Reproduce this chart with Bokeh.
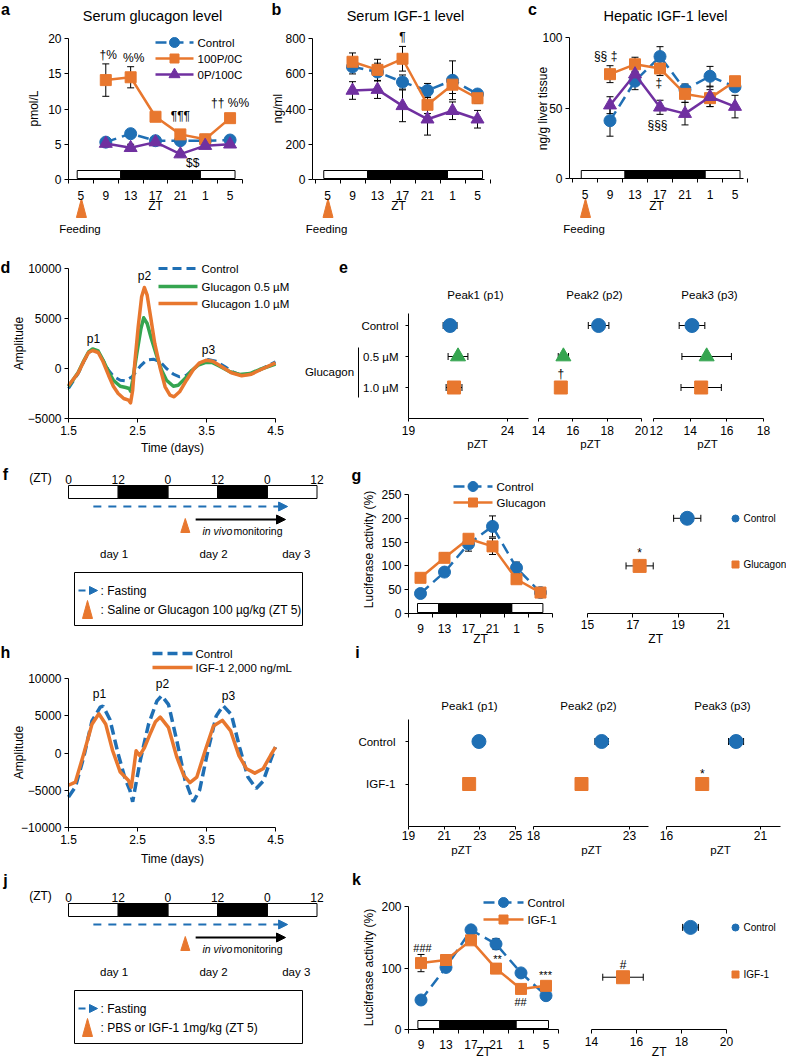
import math
from bokeh.plotting import figure
from bokeh.models import (Range1d, LinearAxis, FixedTicker, Whisker, TeeHead,
                          ColumnDataSource, Label, Arrow, NormalHead)
from bokeh.layouts import row, column
from bokeh.embed import file_html
from bokeh.resources import INLINE

# ============================ DATA ============================
# a-c: sampling times (ZT; feeding at ZT5, 25 = ZT1 and 29 = ZT5 of next day)
feed_zt = [9, 13, 17, 21, 25, 29]
feed_ticks = [5, 9, 13, 17, 21, 25, 29]
feed_tick_labels = ["5", "9", "13", "17", "21", "1", "5"]
feed_series = ["Control", "100P/0C", "0P/100C"]

# a: serum glucagon (pmol/L)
glu_control = [5.3, 6.5, 5.5, 5.5, 5.5, 5.6]
glu_control_err = [0.4, 0.4, 0.3, 0.3, 0.3, 0.3]
glu_100p = [14.1, 14.5, 8.9, 6.4, 5.7, 8.7]
glu_100p_err = [2.3, 1.5, 0.4, 0.5, 0.7, 0.4]
glu_0p = [5.1, 4.5, 5.3, 3.6, 4.8, 5.0]
glu_0p_err = [0.4, 0.5, 0.4, 0.4, 0.4, 0.4]

# b: serum IGF-1 (ng/ml)
sigf_control = [639, 610, 553, 505, 563, 485]
sigf_control_err = [40, 50, 40, 40, 110, 20]
sigf_100p = [668, 622, 685, 424, 538, 461]
sigf_100p_err = [50, 60, 70, 50, 50, 30]
sigf_0p = [505, 510, 418, 342, 390, 342]
sigf_0p_err = [50, 50, 90, 90, 50, 50]

# c: hepatic IGF-1 (ng/g liver tissue)
higf_control = [41, 69, 86.5, 63, 72.5, 65]
higf_control_err = [11, 6, 7, 4, 7, 3]
higf_100p = [74, 81, 78, 60, 57, 69]
higf_100p_err = [6, 5, 5, 6, 6, 3]
higf_0p = [52, 74, 50.5, 46, 58, 51]
higf_0p_err = [6, 4, 5, 8, 7, 8]

# d: detrended bioluminescence (amplitude vs days)
d_t_ctrl = [1.5, 1.64, 1.72, 1.79, 1.85, 1.93, 2.0, 2.08, 2.15, 2.25, 2.32, 2.42, 2.54, 2.63,
            2.73, 2.83, 2.92, 3.02, 3.11, 3.21, 3.31, 3.4, 3.52, 3.64, 3.77, 3.89, 4.01, 4.13,
            4.25, 4.37, 4.5]
d_amp_ctrl = [-2000, -500, 670, 1570, 1850, 1650, 830, -170, -770, -1170, -1230, -830, 230, 830,
              930, 670, 0, -570, -830, -670, -100, 500, 900, 730, 170, -370, -670, -600,
              -230, 230, 670]
d_t_g05 = [1.5, 1.64, 1.72, 1.79, 1.85, 1.93, 2.0, 2.08, 2.15, 2.25, 2.33, 2.38, 2.4, 2.43,
           2.49, 2.55, 2.59, 2.64, 2.7, 2.78, 2.85, 2.92, 3.02, 3.09, 3.19, 3.28, 3.38, 3.48,
           3.58, 3.69, 3.84, 3.98, 4.13, 4.27, 4.5]
d_amp_g05 = [-1800, -400, 750, 1650, 1950, 1750, 850, -330, -1170, -1770, -1900, -2000, -2270,
             -1170, 1500, 4000, 5070, 4500, 3000, 1230, -170, -1170, -1770, -1670, -1000, -230,
             330, 600, 600, 230, -330, -600, -500, -100, 430]
d_t_g10 = [1.5, 1.64, 1.72, 1.79, 1.85, 1.93, 2.0, 2.08, 2.15, 2.22, 2.3, 2.37, 2.4, 2.43,
           2.46, 2.51, 2.56, 2.6, 2.64, 2.69, 2.75, 2.83, 2.9, 2.97, 3.03, 3.11, 3.21, 3.31,
           3.4, 3.5, 3.59, 3.71, 3.86, 4.01, 4.15, 4.29, 4.5]
d_amp_g10 = [-1700, -450, 700, 1600, 1800, 1600, 700, -670, -1770, -2500, -3000, -3170, -3430,
             -2170, 500, 4170, 7170, 8100, 7330, 5170, 2500, 0, -1830, -2670, -2830, -2330,
             -1170, -100, 570, 830, 730, 230, -430, -730, -570, -100, 570]

# e: peak phases (pZT)
e_groups = ["Control", "0.5 µM", "1.0 µM"]
e_p1 = [21.1, 21.5, 21.3]
e_p1_err = [0.35, 0.5, 0.4]
e_p2 = [17.5, 15.45, 15.3]
e_p2_err = [0.6, 0.3, 0.3]
e_p3 = [14.1, 14.9, 14.6]
e_p3_err = [0.7, 1.35, 1.1]

# f / j protocol schematic (ZT hours)
proto_ticks = [0, 12, 24, 36, 48, 60]
proto_tick_labels = ["0", "12", "0", "12", "0", "12"]
proto_light = [(0, 12), (24, 36), (48, 60)]
proto_dark = [(12, 24), (36, 48)]
proto_fasting = (6, 52.9)
proto_injection = 28.2
proto_monitoring = (30.7, 52.4)
proto_days = ["day 1", "day 2", "day 3"]
proto_day_zt = [11, 35, 55]

# g: luciferase activity (%) after glucagon
lum_zt = [9, 13, 17, 21, 25, 29]
lum_ticks = [9, 13, 17, 21, 25, 29]
lum_tick_labels = ["9", "13", "17", "21", "1", "5"]
g_control = [42, 87, 146, 183, 96, 44]
g_control_err = [5, 5, 15, 22, 12, 4]
g_glucagon = [75, 117, 157, 141, 72, 44]
g_glucagon_err = [5, 10, 8, 17, 5, 4]
g_phase = [19.4, 17.3]          # Control, Glucagon (ZT)
g_phase_err = [0.6, 0.6]
g_phase_y = [200, 100]

# h: detrended bioluminescence, IGF-1
h_t_ctrl = [1.5, 1.6, 1.72, 1.84, 1.96, 2.0, 2.1, 2.22, 2.32, 2.39, 2.43, 2.46, 2.54, 2.66,
            2.78, 2.85, 2.95, 3.07, 3.19, 3.31, 3.4, 3.52, 3.64, 3.74, 3.86, 3.98, 4.1, 4.22,
            4.32, 4.42, 4.5]
h_amp_ctrl = [-5900, -4550, -570, 4300, 6150, 6300, 4500, -130, -3450, -5000, -6550, -5000,
              -1000, 3850, 6950, 7700, 6500, 1640, -3670, -6540, -5000, 300, 4950, 6360, 5170,
              750, -3230, -4770, -3800, -1200, 800]
h_t_igf = [1.5, 1.6, 1.72, 1.84, 1.94, 2.04, 2.14, 2.25, 2.37, 2.41, 2.48, 2.53, 2.6, 2.68,
           2.76, 2.83, 2.95, 3.07, 3.17, 3.26, 3.36, 3.48, 3.6, 3.73, 3.85, 3.97, 4.08, 4.2,
           4.32, 4.43, 4.5]
h_amp_igf = [-4330, -3900, -130, 3850, 5260, 3850, 300, -2560, -3700, -4600, 300, -350, 700,
             2500, 4200, 4820, 3400, -570, -3000, -3980, -3230, 300, 3620, 4380, 2960, -350,
             -2120, -2700, -2120, -300, 800]

# i: peak phases (pZT), IGF-1
i_groups = ["Control", "IGF-1"]
i_p1 = [22.95, 22.4]
i_p1_err = [0.3, 0.1]
i_p2 = [21.55, 20.5]
i_p2_err = [0.35, 0.1]
i_p3 = [19.7, 17.9]
i_p3_err = [0.4, 0.3]

# k: luciferase activity (%) after IGF-1
k_control = [48, 101, 162, 139, 92, 55]
k_control_err = [4, 6, 6, 9, 4, 4]
k_igf = [108, 113, 145, 99, 66, 71]
k_igf_err = [14, 5, 5, 8, 6, 5]
k_phase = [18.4, 15.4]          # Control, IGF-1 (ZT)
k_phase_err = [0.35, 0.9]
k_phase_y = [166, 85]

# ============================ STYLE ============================
FONT = "Liberation Sans"
BLUE = "#1f6fb4"
ORANGE = "#e8772e"
PURPLE = "#7030a0"
GREEN = "#35a550"
DASH = "11 6"
FEED_LD = [4.4, 11.4, 24.2, 29.8]
LUM_LD = [8.5, 12.0, 24.2, 29.4]


class Panel:
    """A figure whose whole canvas is the frame; ranges are set so that
    data values land where they sit in the reference picture."""

    def __init__(self, X0, Y0, X1, Y1, xmap, ymap):
        d0, p0, d1, p1 = xmap
        self.kx = (d1 - d0) / (p1 - p0)
        self.cx = d0 - p0 * self.kx
        d0, p0, d1, p1 = ymap
        self.ky = (d1 - d0) / (p1 - p0)
        self.cy = d0 - p0 * self.ky
        p = figure(width=X1 - X0, height=Y1 - Y0,
                   x_range=Range1d(self.fx(X0), self.fx(X1)),
                   y_range=Range1d(self.fy(Y1), self.fy(Y0)),
                   x_axis_type=None, y_axis_type=None, title=None,
                   output_backend="svg", toolbar_location=None, min_border=0)
        p.outline_line_color = None
        p.background_fill_color = "white"
        p.border_fill_color = "white"
        self.p = p

    def fx(self, px):
        return self.kx * px + self.cx

    def fy(self, py):
        return self.ky * py + self.cy

    def px(self, x):
        return (x - self.cx) / self.kx

    def label(self, px, py, text, size=12, align="center", style="normal",
              color="black", angle=0.0):
        self.dlabel(self.fx(px), self.fy(py), text, size, align, style, color, angle)

    def dlabel(self, x, y, text, size=12, align="center", style="normal",
               color="black", angle=0.0):
        self.p.add_layout(Label(x=x, y=y, text=text, text_font=FONT,
                                text_font_size=f"{size}px", text_align=align,
                                text_baseline="middle", text_font_style=style,
                                text_color=color, angle=angle))

    def _style(self, ax, tick_out, standoff, size, has_minor):
        ax.axis_line_color = "black"
        ax.axis_line_width = 1
        ax.major_tick_line_color = "black"
        ax.minor_tick_line_color = "black"
        ax.major_tick_in = 0
        ax.major_tick_out = tick_out
        ax.minor_tick_in = 0
        ax.minor_tick_out = 4 if has_minor else 0
        ax.major_label_standoff = standoff
        ax.major_label_text_font = FONT
        ax.major_label_text_font_size = f"{size}px"
        ax.major_label_text_color = "black"

    def xaxis(self, at, px0, px1, ticks, minor=None, overrides=None, tick_out=4,
              standoff=4, size=12):
        ax = LinearAxis(fixed_location=at, bounds=(self.fx(px0), self.fx(px1)),
                        ticker=FixedTicker(ticks=ticks, minor_ticks=minor or []))
        self._style(ax, tick_out, standoff, size, bool(minor))
        if overrides:
            ax.major_label_overrides = overrides
        self.p.add_layout(ax, "below")

    def yaxis(self, at, lo, hi, ticks, overrides=None, tick_out=4, standoff=4, size=12):
        ax = LinearAxis(fixed_location=at, bounds=(lo, hi), ticker=FixedTicker(ticks=ticks))
        self._style(ax, tick_out, standoff, size, False)
        if overrides:
            ax.major_label_overrides = overrides
        self.p.add_layout(ax, "left")

    def errbar(self, base, vals, errs, dim="height", head=7):
        src = ColumnDataSource(dict(base=list(base),
                                    lower=[v - e for v, e in zip(vals, errs)],
                                    upper=[v + e for v, e in zip(vals, errs)]))
        self.p.add_layout(Whisker(source=src, base="base", lower="lower", upper="upper",
                                  dimension=dim, line_color="black", line_width=1,
                                  upper_head=TeeHead(size=head, line_color="black", line_width=1),
                                  lower_head=TeeHead(size=head, line_color="black", line_width=1)))

    def legend_item(self, px0, px1, py, text, color, dash="solid", lw=2.5, marker=None,
                    msize=9, tx=None, size=11.5):
        self.p.line([self.fx(px0), self.fx(px1)], [self.fy(py)] * 2, line_color=color,
                    line_width=lw, line_dash=dash)
        if marker:
            self.p.scatter([self.fx((px0 + px1) / 2)], [self.fy(py)], marker=marker,
                           size=msize, fill_color=color, line_color=color)
        self.label(px1 + 4 if tx is None else tx, py, text, size=size, align="left")

    def triangle(self, cx_px, top_px, bot_px, half_px, color):
        self.p.patch([self.fx(cx_px - half_px), self.fx(cx_px), self.fx(cx_px + half_px)],
                     [self.fy(bot_px), self.fy(top_px), self.fy(bot_px)],
                     fill_color=color, line_color=color)


def ld_bar(P, edges, top_px, bot_px):
    P.p.quad(left=[edges[0], edges[2]], right=[edges[1], edges[3]],
             bottom=P.fy(bot_px), top=P.fy(top_px),
             fill_color="white", line_color="black", line_width=1)
    P.p.quad(left=[edges[1]], right=[edges[2]], bottom=P.fy(bot_px), top=P.fy(top_px),
             fill_color="black", line_color="black", line_width=1)


def draw_series(P, xs, ys, errs, color, marker, size, dash="solid", lw=2.5):
    P.errbar(xs, ys, errs)
    P.p.line(xs, ys, line_color=color, line_width=lw, line_dash=dash, line_join="round")
    P.p.scatter(xs, ys, marker=marker, size=size, fill_color=color, line_color=color)


FEED_STYLE = [(BLUE, "circle", 12, DASH), (ORANGE, "square", 11, "solid"),
              (PURPLE, "triangle", 13, "solid")]


def feeding_panel(X0, X1, xmap, axis_px, ymap, ymax, yticks, series, title, title_x,
                  letter, letter_x, ylabel, ylabel_x):
    P = Panel(X0, 0, X1, 250, xmap, ymap)
    ld_bar(P, FEED_LD, 170, 178)
    P.xaxis(0, axis_px[0], axis_px[1] + 0.3, feed_ticks,
            minor=[3, 7, 11, 15, 19, 23, 27, 31],
            overrides=dict(zip(feed_ticks, feed_tick_labels)), tick_out=0, standoff=7)
    P.yaxis(P.fx(axis_px[0]), 0, ymax, yticks, tick_out=4, standoff=3)
    for (vals, errs), (color, marker, size, dash) in zip(series, FEED_STYLE):
        draw_series(P, feed_zt, vals, errs, color, marker, size, dash)
    cx = P.px(feed_ticks[0])
    P.triangle(cx + 0.5, 198, 217, 5, ORANGE)
    P.label(cx - 1, 228, "Feeding", size=11.5)
    P.label(title_x, 15, title, size=14.5)
    P.label(letter_x, 9, letter, size=16, style="bold")
    P.label(ylabel_x, 108, ylabel, size=12, angle=math.pi / 2)
    P.label((axis_px[0] + axis_px[1]) / 2, 205, "ZT", size=12)
    return P


# ---------------- a ----------------
Pa = feeding_panel(0, 262, (3, 68, 31, 242), (68, 242), (0, 179, 20, 38), 20,
                   [0, 5, 10, 15, 20],
                   [(glu_control, glu_control_err), (glu_100p, glu_100p_err),
                    (glu_0p, glu_0p_err)],
                   "Serum glucagon level", 152, "a", 5, "pmol/L", 33)
for txt, x, y in [("†%", 9.4, 17.6), ("%%", 13.5, 17.2), ("¶¶¶", 21, 9.0),
                  ("$$", 23, 2.4), ("†† %%", 29, 10.8)]:
    Pa.dlabel(x, y, txt, size=12)
for i, (name, (color, marker, size, dash)) in enumerate(zip(feed_series, FEED_STYLE)):
    Pa.legend_item(155, 193, 42 + 16 * i, name, color, dash=dash, marker=marker,
                   msize=size - 2, tx=197)

# ---------------- b ----------------
Pb = feeding_panel(262, 518, (5, 327, 29, 477), (312, 484), (0, 179, 800, 38), 800,
                   [0, 200, 400, 600, 800],
                   [(sigf_control, sigf_control_err), (sigf_100p, sigf_100p_err),
                    (sigf_0p, sigf_0p_err)],
                   "Serum IGF-1 level", 405, "b", 276, "ng/ml", 277)
Pb.dlabel(17, 811, "¶", size=12)

# ---------------- c ----------------
Pc = feeding_panel(518, 786, (5, 584.5, 29, 734.5), (569, 743), (0, 178, 100, 37), 100,
                   [0, 50, 100],
                   [(higf_control, higf_control_err), (higf_100p, higf_100p_err),
                    (higf_0p, higf_0p_err)],
                   "Hepatic IGF-1 level", 665, "c", 532, "ng/g liver tissue", 542)
for txt, x, y in [("§§ ‡", 8.3, 87), ("‡", 16.8, 67.4), ("§§§", 16.6, 37.6)]:
    Pc.dlabel(x, y, txt, size=12)

# ---------------- d ----------------
Pd = Panel(0, 250, 293, 462, (1.5, 68, 4.5, 275), (0, 368, 10000, 268))
Pd.xaxis(-5000, 68, 275, [1.5, 2.5, 3.5, 4.5], tick_out=4, standoff=3)
Pd.yaxis(1.5, -5000, 10000, [-5000, 0, 5000, 10000], tick_out=4, standoff=3)
Pd.p.line(d_t_ctrl, d_amp_ctrl, line_color=BLUE, line_width=3, line_dash="9 5")
Pd.p.line(d_t_g05, d_amp_g05, line_color=GREEN, line_width=3.5, line_join="round")
Pd.p.line(d_t_g10, d_amp_g10, line_color=ORANGE, line_width=3.5, line_join="round")
Pd.legend_item(158, 197, 268, "Control", BLUE, dash="9 5", lw=3, tx=201)
Pd.legend_item(158, 197, 286, "Glucagon 0.5 µM", GREEN, lw=3.5, tx=201)
Pd.legend_item(158, 197, 303, "Glucagon 1.0 µM", ORANGE, lw=3.5, tx=201)
Pd.label(93, 338, "p1")
Pd.label(144, 275, "p2")
Pd.label(208, 349, "p3")
Pd.label(172, 447, "Time (days)")
Pd.label(18, 343, "Amplitude", angle=math.pi / 2)
Pd.label(5, 267, "d", size=16, style="bold")

# ---------------- e ----------------
E_MARK = [("circle", BLUE, 14), ("triangle", GREEN, 15), ("square", ORANGE, 13)]
I_MARK = [("circle", BLUE, 14), ("square", ORANGE, 13)]


def peak_panel(X0, Y0, X1, Y1, xmap, ymap, axis_px, ticks, vals, errs, marks, title,
               title_xy, pzt_xy, standoff=4):
    P = Panel(X0, Y0, X1, Y1, xmap, ymap)
    P.xaxis(0, axis_px[0], axis_px[1], ticks, tick_out=3, standoff=standoff, size=12)
    rows = list(range(len(vals), 0, -1))
    P.errbar(rows, vals, errs, dim="width", head=7)
    for v, r, (marker, color, size) in zip(vals, rows, marks):
        P.p.scatter([v], [r], marker=marker, size=size, fill_color=color, line_color=color)
    P.label(title_xy[0], title_xy[1], title, size=11.5)
    P.label(pzt_xy[0], pzt_xy[1], "pZT", size=11.5)
    return P


EY = (0, 418, 3, 325)
Pe1 = peak_panel(293, 250, 530, 462, (19, 408, 24, 507), EY, (408, 527.5), [19, 24],
                 e_p1, e_p1_err, E_MARK, "Peak1 (p1)", (475, 294), (477, 443))
Pe1.yaxis(19, 0, 3.4, [1, 2, 3], overrides=dict(zip([3, 2, 1], e_groups)),
          tick_out=3, standoff=7, size=11.5)
Pe1.label(329, 371, "Glucagon", size=11.5)
Pe1.p.line([Pe1.fx(358)] * 2, [Pe1.fy(347), Pe1.fy(397)], line_color="black", line_width=1)
Pe1.label(343, 266, "e", size=16, style="bold")
Pe2 = peak_panel(530, 250, 649, 462, (14, 538, 20, 641), EY, (538, 641.3), [14, 16, 18, 20],
                 e_p2, e_p2_err, E_MARK, "Peak2 (p2)", (594, 294), (590, 443))
Pe2.dlabel(15.3, Pe2.fy(373), "†", size=12)
Pe3 = peak_panel(649, 250, 786, 462, (12, 653, 18, 763), EY, (653, 763.3), [12, 14, 16, 18],
                 e_p3, e_p3_err, E_MARK, "Peak3 (p3)", (709, 294), (707, 443))


# ---------------- f / j ----------------
def protocol(P, y0, legend_text):
    p = P.p
    ax = LinearAxis(fixed_location=y0 + 8, bounds=(-1, 61), ticker=FixedTicker(ticks=proto_ticks))
    P._style(ax, 0, 2, 12, False)
    ax.axis_line_color = None
    ax.major_label_overrides = dict(zip(proto_ticks, proto_tick_labels))
    p.add_layout(ax, "above")
    P.label(40, y0, "(ZT)")
    top, bot = y0 + 8, y0 + 21
    p.quad(left=[a for a, b in proto_light], right=[b for a, b in proto_light],
           bottom=bot, top=top, fill_color="white", line_color="black", line_width=1)
    p.quad(left=[a for a, b in proto_dark], right=[b for a, b in proto_dark],
           bottom=bot, top=top, fill_color="black", line_color="black", line_width=1)
    p.add_layout(Arrow(x_start=proto_fasting[0], y_start=y0 + 29, x_end=proto_fasting[1],
                       y_end=y0 + 29, line_color=BLUE, line_width=2, line_dash="8 7",
                       end=NormalHead(size=9, fill_color=BLUE, line_color=BLUE)))
    P.triangle(P.px(proto_injection), y0 + 41, y0 + 55, 4.5, ORANGE)
    p.add_layout(Arrow(x_start=proto_monitoring[0], y_start=y0 + 42, x_end=proto_monitoring[1],
                       y_end=y0 + 42, line_color="black", line_width=2,
                       end=NormalHead(size=9, fill_color="black", line_color="black")))
    P.label(202, y0 + 53, "in vivo", size=10.5, align="left", style="italic")
    P.label(233, y0 + 53, "monitoring", size=10.5, align="left")
    for name, zt in zip(proto_days, proto_day_zt):
        P.dlabel(zt, y0 + 76, name, size=11.5)
    p.quad(left=P.fx(74), right=P.fx(302), top=y0 + 95, bottom=y0 + 148,
           fill_color=None, line_color="black", line_width=1)
    p.line([P.fx(78), P.fx(85)], [y0 + 113] * 2, line_color=BLUE, line_width=2)
    p.patch([P.fx(89), P.fx(89), P.fx(97)], [y0 + 109, y0 + 117, y0 + 113],
            fill_color=BLUE, line_color=BLUE)
    P.label(100, y0 + 113, ": Fasting", size=12, align="left")
    P.triangle(87, y0 + 123, y0 + 141, 5, ORANGE)
    P.label(100, y0 + 132, legend_text, size=12, align="left")


Pf = Panel(0, 462, 350, 644, (0, 68, 60, 316.5), (0, 0, 1, 1))
protocol(Pf, 477, ": Saline or Glucagon 100 µg/kg (ZT 5)")
Pf.label(5, 474, "f", size=16, style="bold")


# ---------------- g / k ----------------
def lum_panel(Y0, Y1, ymap, ymax, yticks, axis_x1, ld_px, series, lum_xmap, ylabel_y, zt_y,
              standoff):
    P = Panel(350, Y0, 575, Y1, lum_xmap, ymap)
    ld_bar(P, LUM_LD, ld_px[0], ld_px[1])
    P.xaxis(0, 408, axis_x1 + 0.3, lum_ticks, minor=[7, 11, 15, 19, 23, 27, 31],
            overrides=dict(zip(lum_ticks, lum_tick_labels)), tick_out=0, standoff=standoff,
            size=12)
    P.yaxis(7, 0, ymax, yticks, tick_out=4, standoff=3, size=12)
    for vals, errs, color, marker, size, dash in series:
        draw_series(P, lum_zt, vals, errs, color, marker, size, dash)
    P.label(368, ylabel_y, "Luciferase activity (%)", size=12, angle=math.pi / 2)
    P.label((408 + axis_x1) / 2, zt_y, "ZT", size=12)
    return P


def phase_panel(Y0, Y1, ymap, xmap, axis_px, ticks, vals, errs, ys, names, leg_ys, leg_x,
                zt_y, standoff):
    P = Panel(575, Y0, 786, Y1, xmap, ymap)
    P.xaxis(0, axis_px[0], axis_px[1], ticks, tick_out=4, standoff=standoff, size=12)
    P.errbar(ys, vals, errs, dim="width", head=7)
    for v, y, (marker, color, size), name, ly in zip(vals, ys, I_MARK, names, leg_ys):
        P.p.scatter([v], [y], marker=marker, size=size, fill_color=color, line_color=color)
        P.p.scatter([P.fx(leg_x)], [P.fy(ly)], marker=marker, size=7, fill_color=color,
                    line_color=color)
        P.label(leg_x + 8, ly, name, size=10, align="left")
    P.label((axis_px[0] + axis_px[1]) / 2, zt_y, "ZT", size=12)
    return P


GY = (0, 613, 250, 494)
Pg = lum_panel(462, 644, GY, 250, [0, 50, 100, 150, 200, 250], 552, (603, 612),
               [(g_control, g_control_err, BLUE, "circle", 12, DASH),
                (g_glucagon, g_glucagon_err, ORANGE, "square", 11, "solid")],
               (7, 408, 31, 552), 549, 638, 6)
Pg.legend_item(453, 492, 486, "Control", BLUE, dash=DASH, marker="circle", msize=10, tx=496)
Pg.legend_item(453, 492, 502, "Glucagon", ORANGE, marker="square", msize=9, tx=496)
Pg.label(356, 475, "g", size=16, style="bold")
Pgr = phase_panel(462, 644, GY, (15, 587, 21, 723), (587, 723.3), [15, 17, 19, 21],
                  g_phase, g_phase_err, g_phase_y, ["Control", "Glucagon"], [518, 564], 735,
                  638, 2)
Pgr.dlabel(g_phase[1], Pgr.fy(552), "*", size=12)

# ---------------- h ----------------
Ph = Panel(0, 644, 296, 866, (1.5, 68, 4.5, 275), (0, 752.5, 10000, 678))
Ph.xaxis(-10000, 68, 275, [1.5, 2.5, 3.5, 4.5], tick_out=4, standoff=3)
Ph.yaxis(1.5, -10000, 10000, [-10000, -5000, 0, 5000, 10000], tick_out=4, standoff=3)
Ph.p.line(h_t_ctrl, h_amp_ctrl, line_color=BLUE, line_width=3.5, line_dash="10 5")
Ph.p.line(h_t_igf, h_amp_igf, line_color=ORANGE, line_width=3.5, line_join="round")
Ph.legend_item(152, 192, 653, "Control", BLUE, dash="10 5", lw=3.5, tx=195)
Ph.legend_item(152, 192, 667, "IGF-1 2,000 ng/mL", ORANGE, lw=3.5, tx=195)
Ph.label(99, 693, "p1")
Ph.label(162, 683, "p2")
Ph.label(228, 695, "p3")
Ph.label(172, 858, "Time (days)")
Ph.label(18, 752, "Amplitude", angle=math.pi / 2)
Ph.label(5, 652, "h", size=16, style="bold")

# ---------------- i ----------------
IY = (0, 826, 2, 741)
Pi1 = peak_panel(296, 644, 526, 866, (19, 408, 25, 515), IY, (408, 515.3), [19, 21, 23, 25],
                 i_p1, i_p1_err, I_MARK, "Peak1 (p1)", (469, 705), (461, 849), standoff=1)
Pi1.yaxis(19, 0, 2.52, [1, 2], overrides=dict(zip([2, 1], i_groups)), tick_out=3,
          standoff=10, size=11.5)
Pi1.label(357, 652, "i", size=16, style="bold")
Pi2 = peak_panel(526, 644, 656, 866, (18, 533, 23, 629), IY, (533, 648), [18, 23],
                 i_p2, i_p2_err, I_MARK, "Peak2 (p2)", (588, 705), (591, 849), standoff=1)
Pi3 = peak_panel(656, 644, 786, 866, (16, 666, 21, 760), IY, (666, 780), [16, 21],
                 i_p3, i_p3_err, I_MARK, "Peak3 (p3)", (722, 705), (720, 849), standoff=1)
Pi3.dlabel(i_p3[1], Pi3.fy(773), "*", size=12)

# ---------------- j ----------------
Pj = Panel(0, 866, 350, 1057, (0, 68, 60, 316.5), (0, 0, 1, 1))
protocol(Pj, 895, ": PBS or IGF-1 1mg/kg (ZT 5)")
Pj.label(5, 880, "j", size=16, style="bold")

# ---------------- k ----------------
KY = (0, 1029, 200, 906)
Pk = lum_panel(866, 1057, KY, 200, [0, 100, 200], 558, (1020, 1028),
               [(k_control, k_control_err, BLUE, "circle", 12, DASH),
                (k_igf, k_igf_err, ORANGE, "square", 11, "solid")],
               (7, 408, 31, 558), 967, 1051, 6)
Pk.legend_item(483, 523, 902, "Control", BLUE, dash=DASH, marker="circle", msize=10, tx=527)
Pk.legend_item(483, 523, 919, "IGF-1", ORANGE, marker="square", msize=9, tx=527)
for txt, px, py in [("###", 422, 947), ("**", 497, 958), ("##", 520, 1001), ("***", 545, 974)]:
    Pk.label(px, py, txt, size=11)
Pk.label(356, 879, "k", size=16, style="bold")
Pkr = phase_panel(866, 1057, KY, (14, 591, 20, 726), (591, 726.3), [14, 16, 18, 20],
                  k_phase, k_phase_err, k_phase_y, ["Control", "IGF-1"], [927, 974], 735,
                  1051, 3)
Pkr.dlabel(k_phase[1], Pkr.fy(964), "#", size=12)

layout = column(
    row(Pa.p, Pb.p, Pc.p),
    row(Pd.p, Pe1.p, Pe2.p, Pe3.p),
    row(Pf.p, Pg.p, Pgr.p),
    row(Ph.p, Pi1.p, Pi2.p, Pi3.p),
    row(Pj.p, Pk.p, Pkr.p),
)

open("out.html", "w").write(file_html(layout, INLINE))
